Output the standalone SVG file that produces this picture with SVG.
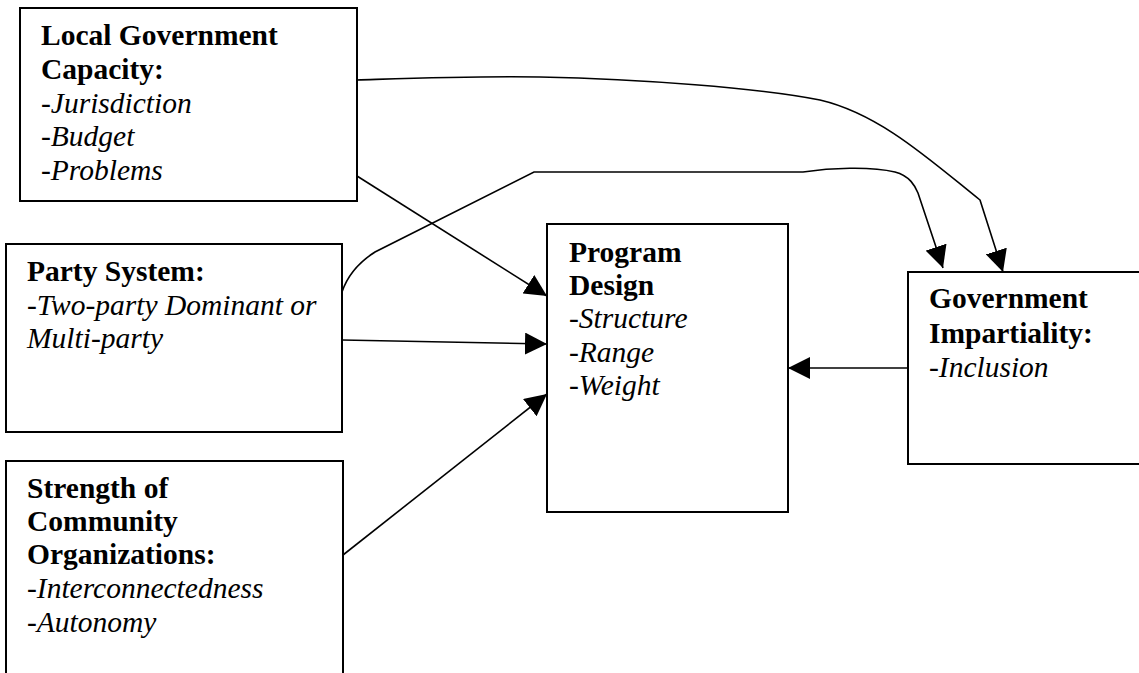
<svg xmlns="http://www.w3.org/2000/svg" width="1139" height="673" viewBox="0 0 1139 673">
<style>
.box{fill:#fff;stroke:#000;stroke-width:2}
.t{font-family:"Liberation Serif","Times New Roman",serif;font-size:29.5px;fill:#000}
.b{font-weight:bold}
.i{font-style:italic}
.c{fill:none;stroke:#000;stroke-width:1.6;marker-end:url(#ah)}
</style>
<defs>
<marker id="ah" markerUnits="userSpaceOnUse" markerWidth="22" markerHeight="22" refX="20" refY="10" orient="auto" viewBox="0 0 20 20">
<path d="M0,0 L20,10 L0,20 z" fill="#000"/>
</marker>
</defs>
<rect width="1139" height="673" fill="#fff"/>
<g id="local-government">
<rect class="box" x="20" y="8" width="337" height="193"/>
<text class="t b" x="41" y="45">Local Government</text>
<text class="t b" x="41" y="79">Capacity:</text>
<text class="t i" x="41" y="112.5">-Jurisdiction</text>
<text class="t i" x="41" y="146">-Budget</text>
<text class="t i" x="41" y="180">-Problems</text>
</g>
<g id="party-system">
<rect class="box" x="6" y="244" width="336" height="188"/>
<text class="t b" x="27" y="281">Party System:</text>
<text class="t i" x="27" y="315">-Two-party Dominant or</text>
<text class="t i" x="27" y="348">Multi-party</text>
</g>
<g id="community">
<rect class="box" x="6" y="461" width="337" height="240"/>
<text class="t b" x="27" y="498">Strength of</text>
<text class="t b" x="27" y="531">Community</text>
<text class="t b" x="27" y="564">Organizations:</text>
<text class="t i" x="27" y="598">-Interconnectedness</text>
<text class="t i" x="27" y="632">-Autonomy</text>
</g>
<g id="program-design">
<rect class="box" x="547" y="224" width="241" height="288"/>
<text class="t b" x="569" y="262">Program</text>
<text class="t b" x="569" y="295">Design</text>
<text class="t i" x="569" y="328">-Structure</text>
<text class="t i" x="569" y="362">-Range</text>
<text class="t i" x="569" y="395">-Weight</text>
</g>
<g id="government-impartiality">
<rect class="box" x="908" y="272" width="260" height="192"/>
<text class="t b" x="929" y="308">Government</text>
<text class="t b" x="929" y="343">Impartiality:</text>
<text class="t i" x="929" y="377">-Inclusion</text>
</g>
<g id="connectors">
<path class="c" d="M357,80 C420,78 470,76 540,77 C640,79 760,88 820,100 C880,114 930,160 980,200 L1003,272"/>
<path class="c" d="M342,292 Q350,268 375,252 L534,172 L803,172 C830,168 870,166 895,172 C910,176 915,186 918,193 L943,268"/>
<path class="c" d="M357,176 L547,296"/>
<path class="c" d="M342,340 L547,344"/>
<path class="c" d="M343,555 L547,394"/>
<path class="c" d="M908,368 L788,368"/>
</g>
</svg>
